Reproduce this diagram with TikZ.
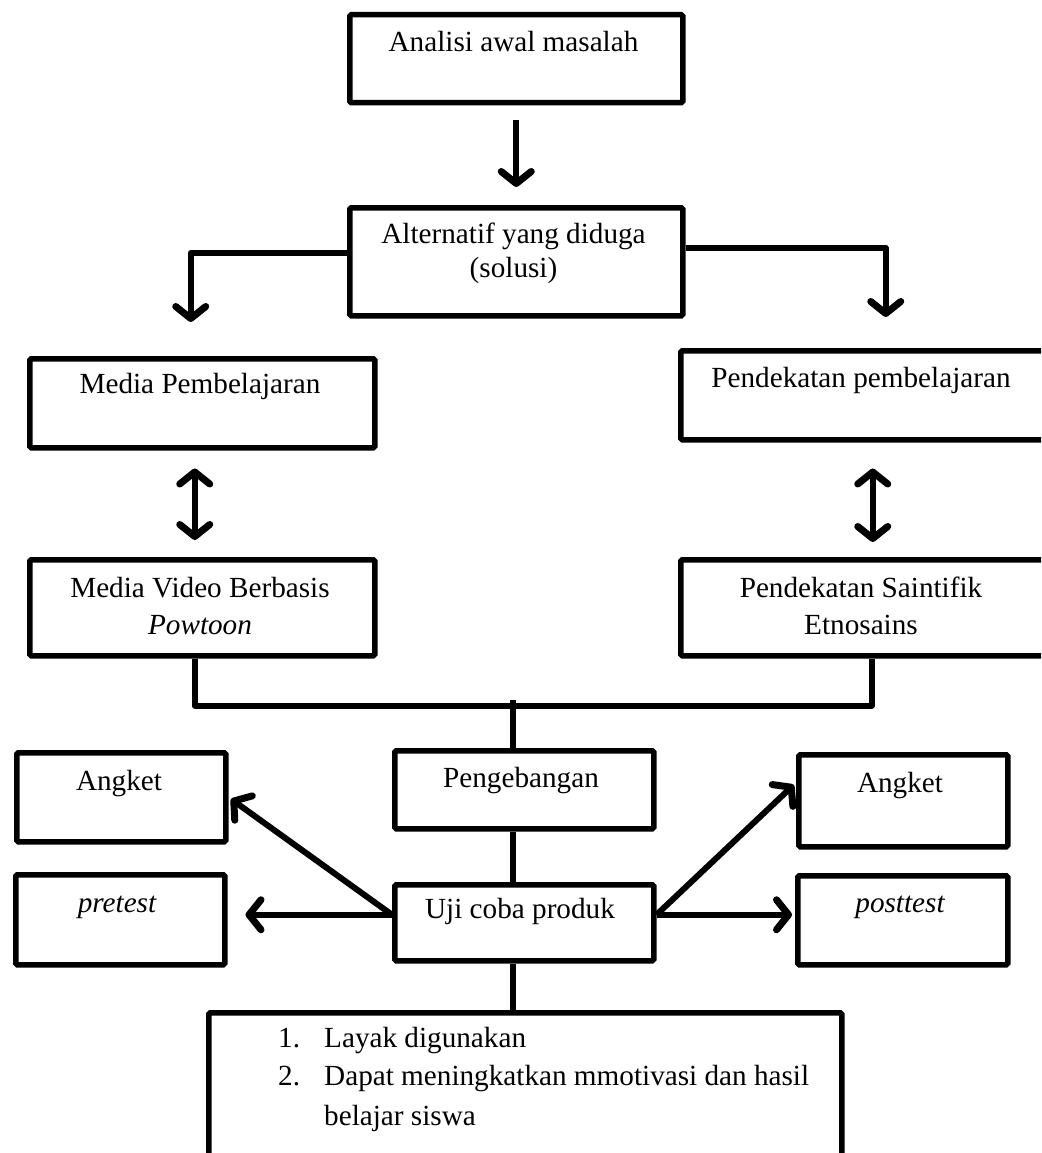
\documentclass[tikz,border=0pt]{standalone}
\usepackage{fontspec}
\setmainfont{Liberation Serif}
\usetikzlibrary{arrows.meta,calc}
\begin{document}
\begin{tikzpicture}[x=1pt,y=-1pt,
  box/.style={draw, line width=5.5pt, rounded corners=1.5pt, inner sep=0pt, anchor=north west},
  txt/.style={anchor=base, inner sep=0pt, font=\fontsize{29.2}{36}\selectfont},
  ltxt/.style={txt, anchor=base west},
  conn/.style={line width=6pt, line join=round},
  tip/.tip={Straight Barb[length=12pt,width=30pt,line width=7pt,round]},
  arr/.style={conn, -tip},
  darr/.style={conn, tip-tip},
]
\clip (0,0) rectangle (1041,1153);
\fill[white] (0,0) rectangle (1041,1153);

% boxes
\node[box, minimum width=333pt, minimum height=88pt] (title) at (347,12) {};
\node[box, minimum width=333pt, minimum height=108pt] (alt) at (347,205) {};
\node[box, minimum width=345pt, minimum height=89pt] (media) at (27,356) {};
\node[box, minimum width=368pt, minimum height=89pt] (pend) at (678,348) {};
\node[box, minimum width=345pt, minimum height=96pt] (video) at (27,557) {};
\node[box, minimum width=368pt, minimum height=96pt] (saint) at (678,557) {};
\node[box, minimum width=209pt, minimum height=89pt] (angL) at (14,750) {};
\node[box, minimum width=259pt, minimum height=78pt] (peng) at (392,748) {};
\node[box, minimum width=209pt, minimum height=92pt] (angR) at (796,752) {};
\node[box, minimum width=209pt, minimum height=90pt] (pre) at (13,872) {};
\node[box, minimum width=259pt, minimum height=76pt] (uji) at (392,882) {};
\node[box, minimum width=210pt, minimum height=89pt] (post) at (795,873) {};
\node[box, minimum width=633pt, minimum height=200pt] (res) at (206,1010) {};

% texts
\node[txt] (title-t) at (513.5,52) {Analisi awal masalah};
\node[txt] (alt-t1) at (513.5,243) {Alternatif yang diduga};
\node[txt] (alt-t2) at (513.5,277) {(solusi)};
\node[txt] (media-t) at (200,393) {Media Pembelajaran};
\node[txt] (pend-t) at (861,387) {Pendekatan pembelajaran};
\node[txt] (video-t1) at (200,597) {Media Video Berbasis};
\node[txt] (video-t2) at (200,634) {\itshape Powtoon};
\node[txt] (saint-t1) at (861,597) {Pendekatan Saintifik};
\node[txt] (saint-t2) at (861,634) {Etnosains};
\node[txt] (angL-t) at (119,790) {Angket};
\node[txt] (peng-t) at (521,787) {Pengebangan};
\node[txt] (angR-t) at (900,792) {Angket};
\node[txt] (pre-t) at (117,912) {\itshape pretest};
\node[txt] (uji-t) at (520,918) {Uji coba produk};
\node[txt] (post-t) at (900,912) {\itshape posttest};
\node[ltxt] (res-n1) at (278,1047) {1.};
\node[ltxt] (res-l1) at (324,1047) {Layak digunakan};
\node[ltxt] (res-n2) at (278,1085) {2.};
\node[ltxt] (res-l2) at (324,1085) {Dapat meningkatkan mmotivasi dan hasil};
\node[ltxt] (res-l3) at (324,1125) {belajar siswa};

% connectors
\draw[arr, shorten <=15pt, shorten >=18pt] (title.south) -- (alt.north);
\draw[arr, shorten >=34pt] ($(alt.west)+(0,-9)$) -| ($(media.north)+(-11.5,0)$);
\draw[arr, shorten >=31pt] ($(alt.east)+(0,-14)$) -| ($(pend.north)+(21,0)$);
\draw[darr, shorten <=18pt, shorten >=17pt] ($(media.south)+(-7.5,0)$) -- ($(video.north)+(-7.5,0)$);
\draw[darr, shorten <=26pt, shorten >=15pt] ($(pend.south)+(8,0)$) -- ($(saint.north)+(8,0)$);
\draw[conn] ($(video.south)+(-7.5,0)$) -- ++(0,47) -| ($(saint.south)+(7,0)$);
\coordinate (j) at (513,700);
\draw[conn] (j) -- (j |- peng.north);
\draw[conn] (j |- peng.south) -- (j |- uji.north);
\draw[conn] (j |- uji.south) -- (j |- res.north);
\coordinate (uL) at ($(uji.west)+(0,-8)$);
\coordinate (uR) at ($(uji.east)+(0,-8)$);
\draw[arr, shorten >=3pt] (uL) -- (angL.east);
\draw[arr, shorten >=18pt] (uL) -- (uL -| pre.east);
\draw[arr, shorten >=3pt] (uR) -- ($(angR.west)+(0,-18)$);
\draw[arr, shorten >=3pt] (uR) -- (uR -| post.west);
\end{tikzpicture}
\end{document}
